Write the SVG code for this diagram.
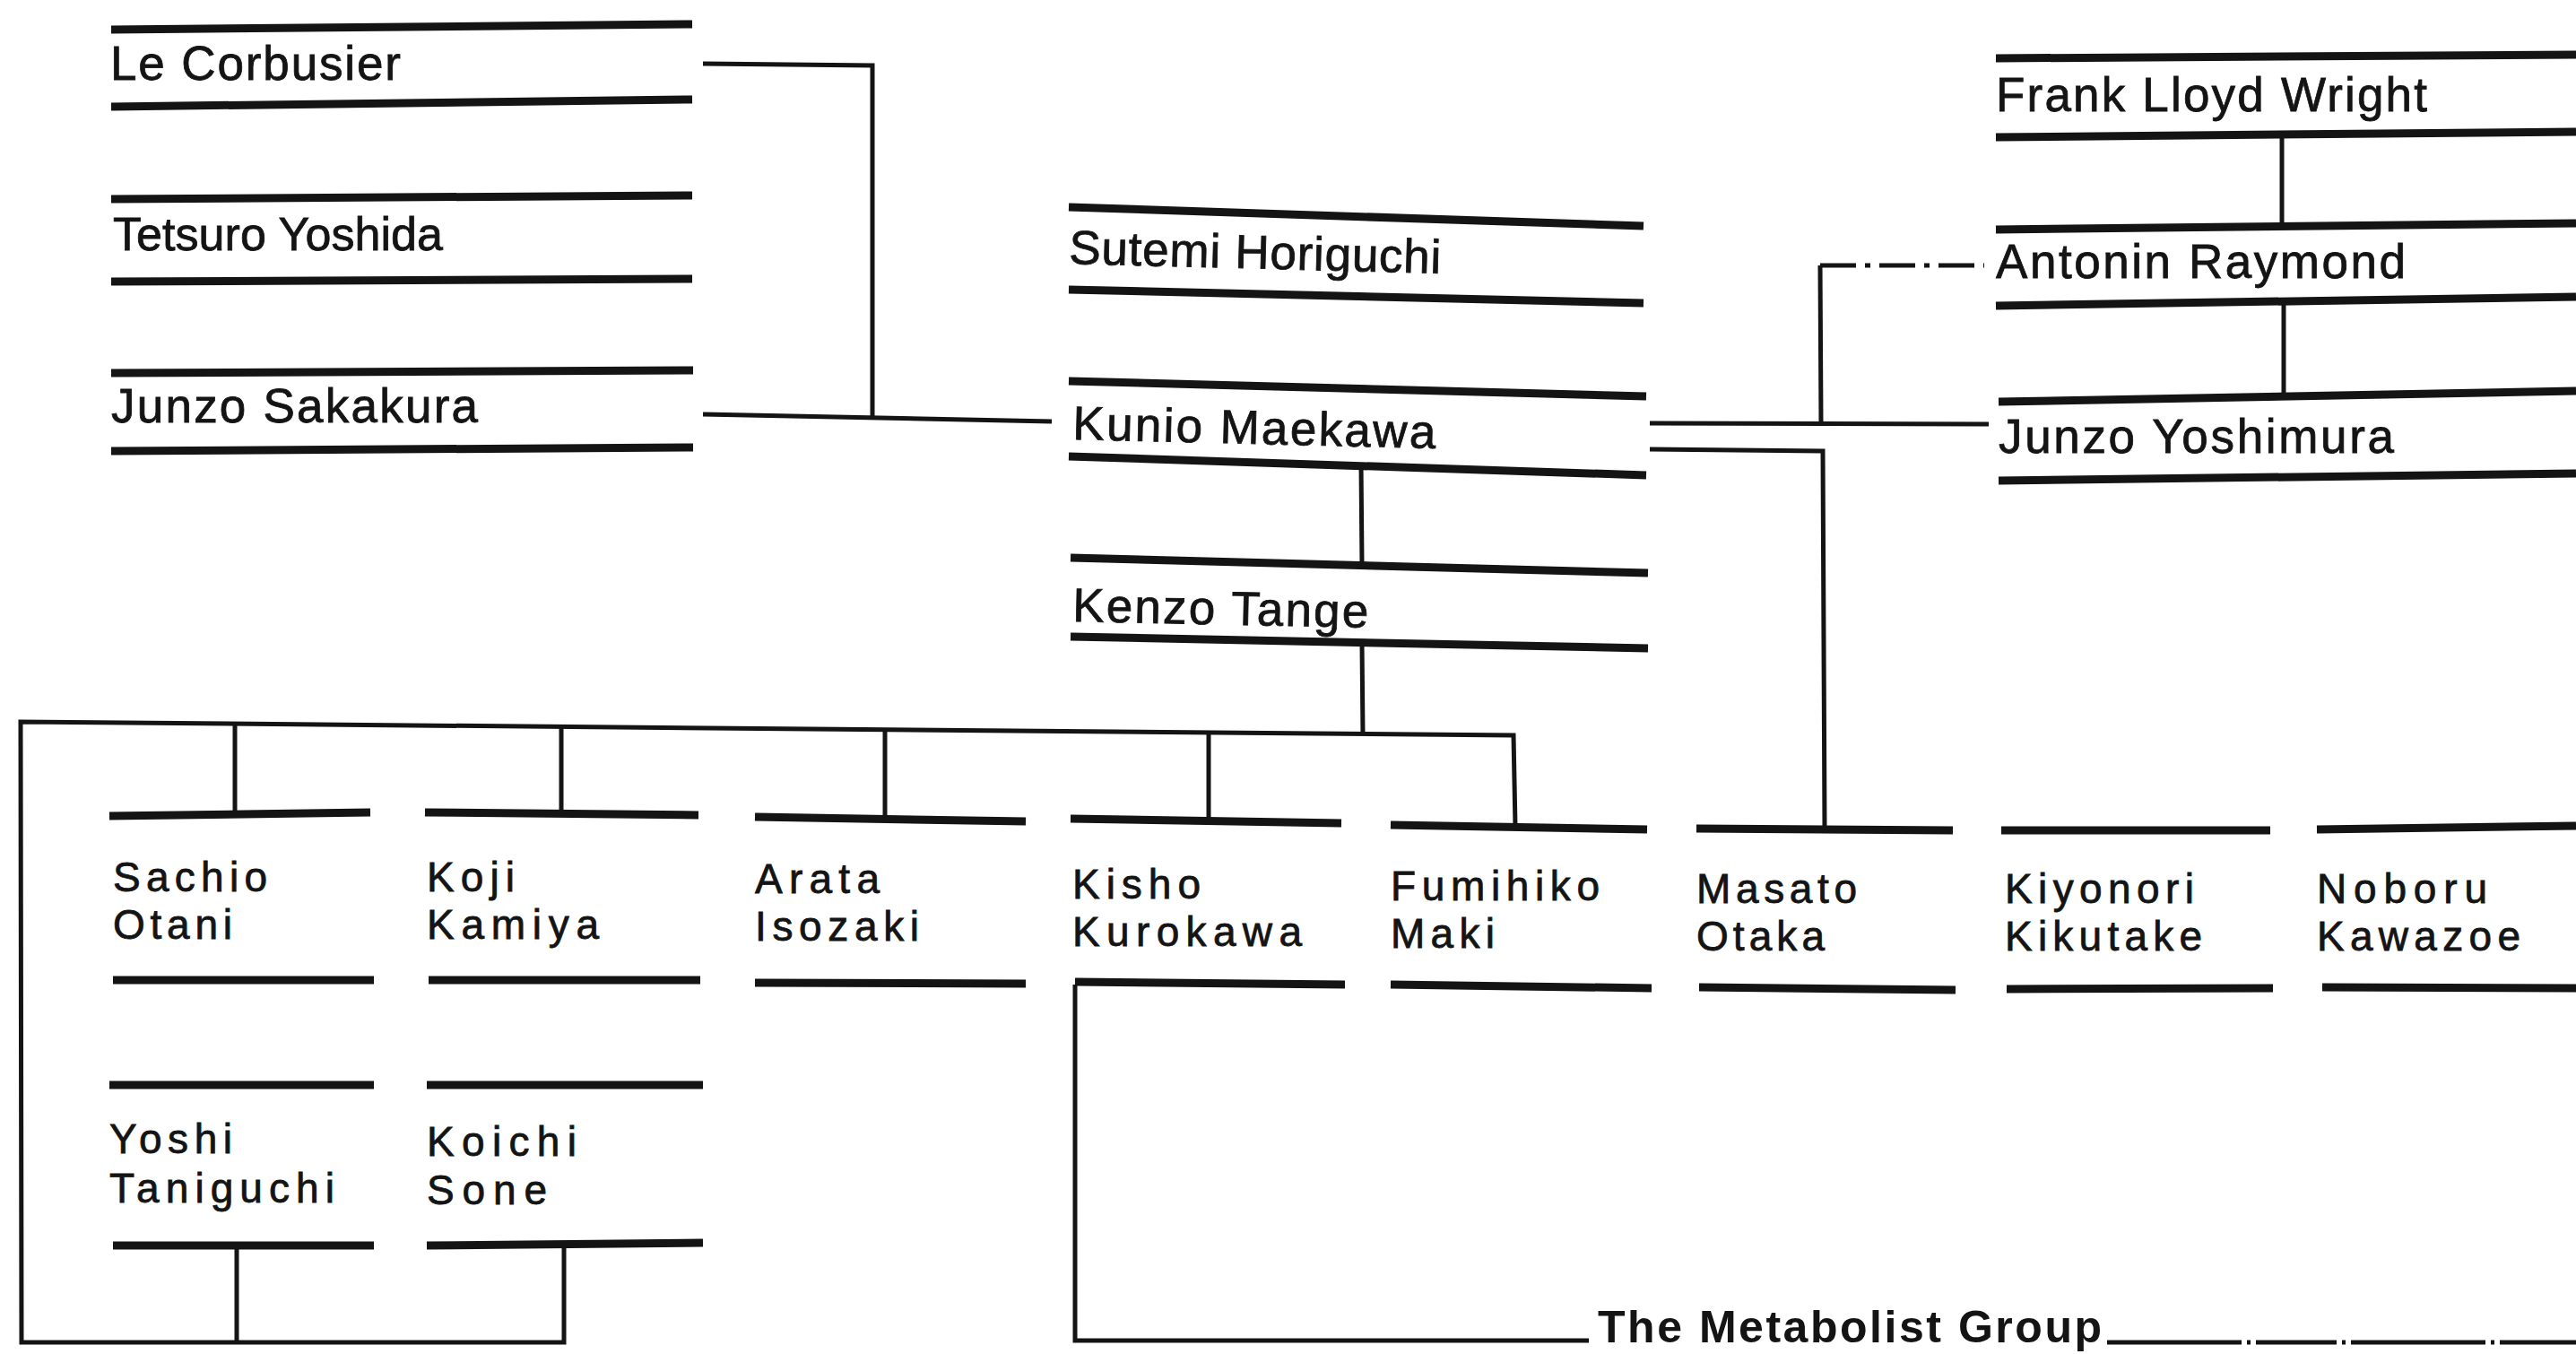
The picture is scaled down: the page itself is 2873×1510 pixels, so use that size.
<svg xmlns="http://www.w3.org/2000/svg" width="2873" height="1510" viewBox="0 0 2873 1510">
<style>
.bar{stroke:#141414;stroke-width:9;fill:none}
.link{stroke:#141414;stroke-width:5;fill:none;stroke-linejoin:miter}
.dash{stroke:#141414;stroke-width:5;fill:none;stroke-dasharray:40 10 6 10}
.t{font-family:"Liberation Sans",Arial,Helvetica,sans-serif;font-size:53px;fill:#141414;stroke:#141414;stroke-width:0.8}
.s{font-family:"Liberation Sans",Arial,Helvetica,sans-serif;font-size:46px;fill:#141414;stroke:#141414;stroke-width:0.8}
.tb{font-family:"Liberation Sans",Arial,Helvetica,sans-serif;font-size:50px;font-weight:bold;fill:#141414}
</style>
<rect width="2873" height="1510" fill="#ffffff"/>

<g id="connectors">
  <polyline class="link" points="784,71 973,73 973,466"/>
  <line class="link" x1="784" y1="462" x2="1173" y2="470"/>
  <line class="link" x1="1518" y1="517" x2="1519" y2="630"/>
  <line class="link" x1="1519" y1="717" x2="1520" y2="819"/>
  <polyline class="link" points="1690,922 1688,820 23,805 24,1497 629,1497 629,1387"/>
  <line class="link" x1="264" y1="1389" x2="264" y2="1497"/>
  <line class="link" x1="262" y1="807" x2="262" y2="908"/>
  <line class="link" x1="626" y1="810" x2="626" y2="907"/>
  <line class="link" x1="987" y1="814" x2="987" y2="912"/>
  <line class="link" x1="1348" y1="817" x2="1348" y2="915"/>
  <line class="link" x1="2545" y1="151" x2="2545" y2="253"/>
  <line class="link" x1="2547" y1="338" x2="2547" y2="440"/>
  <line class="dash" x1="2030" y1="296" x2="2213" y2="296"/>
  <line class="link" x1="2030" y1="296" x2="2031" y2="473"/>
  <line class="link" x1="1840" y1="472" x2="2218" y2="473"/>
  <polyline class="link" points="1840,501 2033,503 2035,924"/>
  <polyline class="link" points="1199,1098 1199,1495 1772,1495"/>
  <line class="link" x1="2350" y1="1497" x2="2873" y2="1497" stroke-dasharray="150 6 4 6 90 6 4 6"/>
</g>

<g id="le-corbusier">
  <line class="bar" x1="124" y1="33" x2="772" y2="27"/>
  <text class="t" x="123" y="89" textLength="324" lengthAdjust="spacing">Le Corbusier</text>
  <line class="bar" x1="124" y1="119" x2="772" y2="111"/>
</g>
<g id="tetsuro-yoshida">
  <line class="bar" x1="124" y1="222" x2="772" y2="218"/>
  <text class="t" x="126" y="279" style="font-size:52px" textLength="368" lengthAdjust="spacing">Tetsuro Yoshida</text>
  <line class="bar" x1="124" y1="314" x2="772" y2="311"/>
</g>
<g id="junzo-sakakura">
  <line class="bar" x1="124" y1="416" x2="773" y2="413"/>
  <text class="t" x="124" y="471" textLength="409" lengthAdjust="spacing">Junzo Sakakura</text>
  <line class="bar" x1="124" y1="503" x2="773" y2="499"/>
</g>

<g id="sutemi-horiguchi">
  <line class="bar" x1="1192" y1="231" x2="1833" y2="252"/>
  <text class="t" x="1192" y="294" textLength="415" lengthAdjust="spacing" transform="rotate(1.5 1192 294)">Sutemi Horiguchi</text>
  <line class="bar" x1="1192" y1="323" x2="1833" y2="338"/>
</g>
<g id="kunio-maekawa">
  <line class="bar" x1="1192" y1="425" x2="1836" y2="442"/>
  <text class="t" x="1196" y="490" textLength="405" lengthAdjust="spacing" transform="rotate(1.4 1196 490)">Kunio Maekawa</text>
  <line class="bar" x1="1192" y1="509" x2="1836" y2="530"/>
</g>
<g id="kenzo-tange">
  <line class="bar" x1="1194" y1="622" x2="1838" y2="639"/>
  <text class="t" x="1196" y="693" textLength="330" lengthAdjust="spacing" transform="rotate(1.2 1196 693)">Kenzo Tange</text>
  <line class="bar" x1="1194" y1="710" x2="1838" y2="723"/>
</g>

<g id="frank-lloyd-wright">
  <line class="bar" x1="2226" y1="65" x2="2873" y2="61"/>
  <text class="t" x="2226" y="124" textLength="481" lengthAdjust="spacing">Frank Lloyd Wright</text>
  <line class="bar" x1="2226" y1="153" x2="2873" y2="147"/>
</g>
<g id="antonin-raymond">
  <line class="bar" x1="2226" y1="256" x2="2873" y2="249"/>
  <text class="t" x="2226" y="310" textLength="457" lengthAdjust="spacing">Antonin Raymond</text>
  <line class="bar" x1="2226" y1="341" x2="2873" y2="331"/>
</g>
<g id="junzo-yoshimura">
  <line class="bar" x1="2229" y1="448" x2="2873" y2="436"/>
  <text class="t" x="2229" y="505" textLength="441" lengthAdjust="spacing">Junzo Yoshimura</text>
  <line class="bar" x1="2229" y1="536" x2="2873" y2="528"/>
</g>

<g id="sachio-otani">
  <line class="bar" x1="122" y1="910" x2="413" y2="906"/>
  <text class="s" x="126" y="994" textLength="172" lengthAdjust="spacing">Sachio</text>
  <text class="s" x="126" y="1047" textLength="133" lengthAdjust="spacing">Otani</text>
  <line class="bar" x1="126" y1="1093" x2="417" y2="1093"/>
</g>
<g id="koji-kamiya">
  <line class="bar" x1="474" y1="906" x2="779" y2="909"/>
  <text class="s" x="476" y="994" textLength="98" lengthAdjust="spacing">Koji</text>
  <text class="s" x="476" y="1047" textLength="192" lengthAdjust="spacing">Kamiya</text>
  <line class="bar" x1="478" y1="1093" x2="781" y2="1093"/>
</g>
<g id="arata-isozaki">
  <line class="bar" x1="842" y1="911" x2="1144" y2="916"/>
  <text class="s" x="842" y="996" textLength="139" lengthAdjust="spacing">Arata</text>
  <text class="s" x="842" y="1049" textLength="183" lengthAdjust="spacing">Isozaki</text>
  <line class="bar" x1="842" y1="1096" x2="1144" y2="1097"/>
</g>
<g id="kisho-kurokawa">
  <line class="bar" x1="1194" y1="913" x2="1496" y2="918"/>
  <text class="s" x="1196" y="1002" textLength="143" lengthAdjust="spacing">Kisho</text>
  <text class="s" x="1196" y="1055" textLength="256" lengthAdjust="spacing">Kurokawa</text>
  <line class="bar" x1="1199" y1="1095" x2="1500" y2="1098"/>
</g>
<g id="fumihiko-maki">
  <line class="bar" x1="1551" y1="920" x2="1837" y2="925"/>
  <text class="s" x="1551" y="1004" textLength="233" lengthAdjust="spacing">Fumihiko</text>
  <text class="s" x="1551" y="1057" textLength="116" lengthAdjust="spacing">Maki</text>
  <line class="bar" x1="1551" y1="1098" x2="1842" y2="1102"/>
</g>
<g id="masato-otaka">
  <line class="bar" x1="1892" y1="924" x2="2178" y2="926"/>
  <text class="s" x="1892" y="1007" textLength="179" lengthAdjust="spacing">Masato</text>
  <text class="s" x="1892" y="1060" textLength="143" lengthAdjust="spacing">Otaka</text>
  <line class="bar" x1="1895" y1="1101" x2="2181" y2="1104"/>
</g>
<g id="kiyonori-kikutake">
  <line class="bar" x1="2232" y1="926" x2="2532" y2="926"/>
  <text class="s" x="2236" y="1007" textLength="211" lengthAdjust="spacing">Kiyonori</text>
  <text class="s" x="2236" y="1060" textLength="220" lengthAdjust="spacing">Kikutake</text>
  <line class="bar" x1="2238" y1="1103" x2="2535" y2="1102"/>
</g>
<g id="noboru-kawazoe">
  <line class="bar" x1="2584" y1="925" x2="2873" y2="921"/>
  <text class="s" x="2584" y="1007" textLength="190" lengthAdjust="spacing">Noboru</text>
  <text class="s" x="2584" y="1060" textLength="227" lengthAdjust="spacing">Kawazoe</text>
  <line class="bar" x1="2590" y1="1101" x2="2873" y2="1102"/>
</g>
<g id="yoshi-taniguchi">
  <line class="bar" x1="122" y1="1210" x2="417" y2="1210"/>
  <text class="s" x="122" y="1286" textLength="137" lengthAdjust="spacing">Yoshi</text>
  <text class="s" x="122" y="1341" textLength="251" lengthAdjust="spacing">Taniguchi</text>
  <line class="bar" x1="126" y1="1389" x2="417" y2="1389"/>
</g>
<g id="koichi-sone">
  <line class="bar" x1="476" y1="1210" x2="784" y2="1210"/>
  <text class="s" x="476" y="1289" textLength="167" lengthAdjust="spacing">Koichi</text>
  <text class="s" x="476" y="1343" textLength="134" lengthAdjust="spacing">Sone</text>
  <line class="bar" x1="476" y1="1389" x2="784" y2="1386"/>
</g>

<g id="metabolist-group">
  <text class="tb" x="1782" y="1497" textLength="562" lengthAdjust="spacing">The Metabolist Group</text>
</g>
</svg>
